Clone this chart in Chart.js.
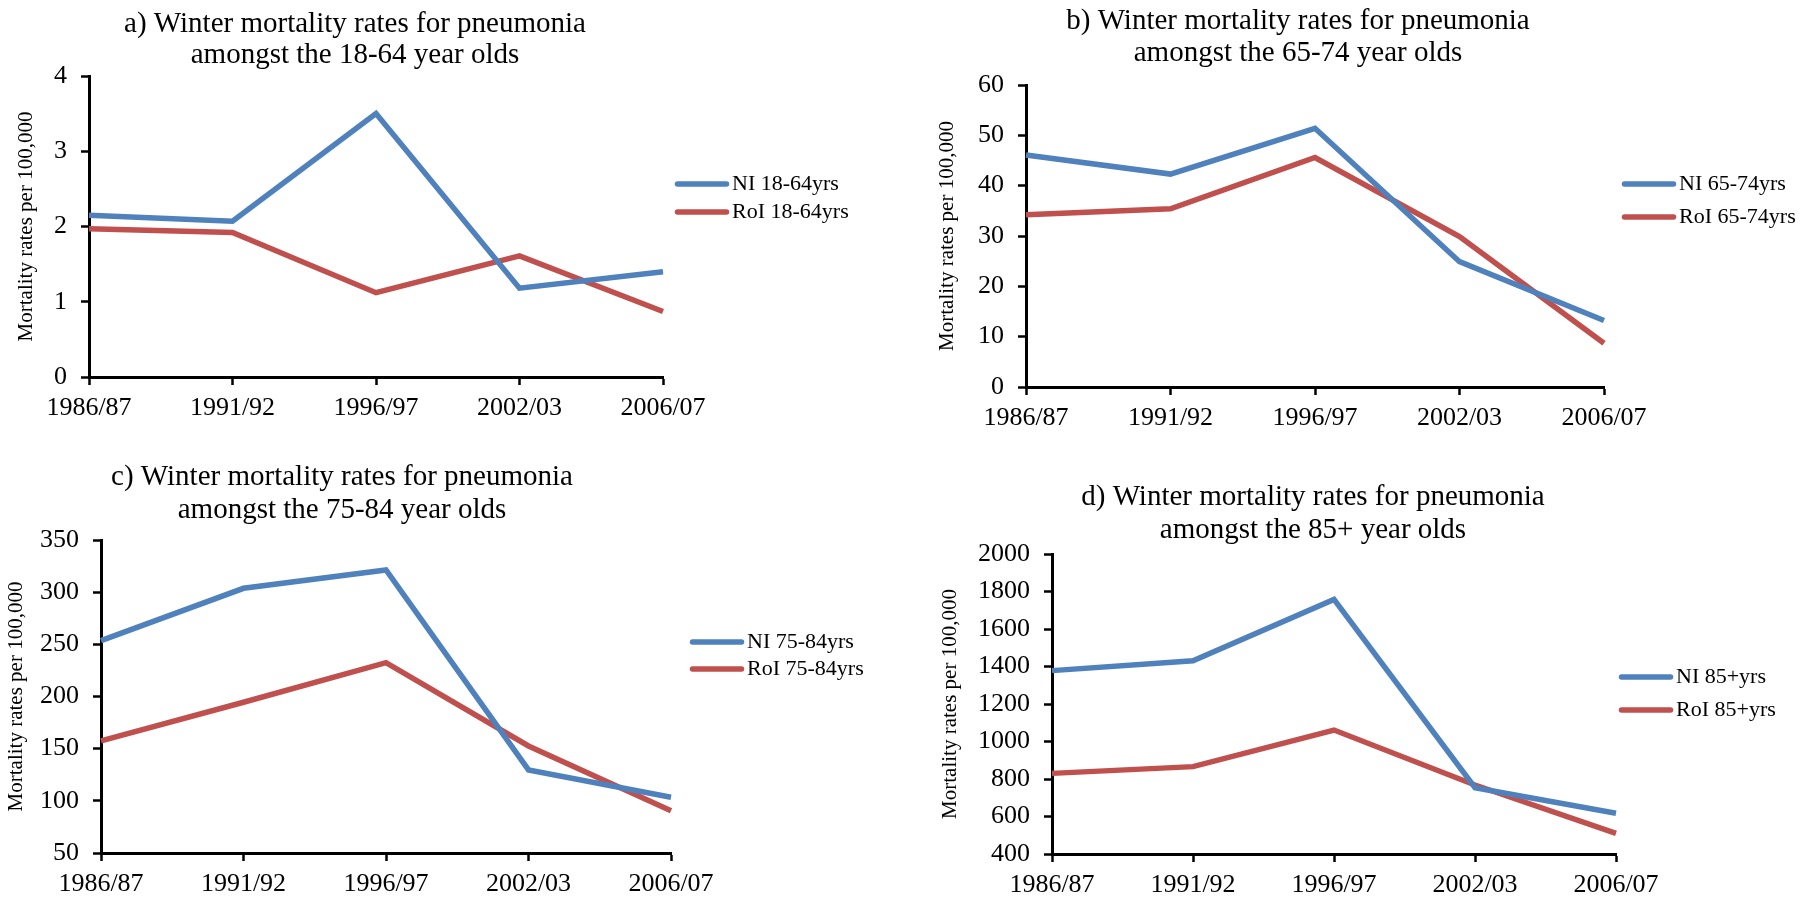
<!DOCTYPE html>
<html>
<head>
<meta charset="utf-8">
<script src="https://cdn.jsdelivr.net/npm/chart.js@4.4.1/dist/chart.umd.min.js"></script>
<style>
  body { margin: 0; background: #fff; }
  #wrap { position: relative; width: 1811px; height: 900px; overflow: hidden; }
  #wrap canvas { position: absolute; }
</style>
</head>
<body>
<div id="wrap">
  <canvas id="chartA" width="905" height="450" style="left:0;top:0"></canvas>
  <canvas id="chartB" width="906" height="450" style="left:905px;top:0"></canvas>
  <canvas id="chartC" width="905" height="450" style="left:0;top:450px"></canvas>
  <canvas id="chartD" width="906" height="450" style="left:905px;top:450px"></canvas>
</div>
<script>
// data
var seasons = ['1986/87', '1991/92', '1996/97', '2002/03', '2006/07'];

var ni1864 = [2.15, 2.07, 3.50, 1.18, 1.40];
var roi1864 = [1.97, 1.92, 1.12, 1.61, 0.87];

var ni6574 = [46.1, 42.3, 51.4, 24.9, 13.2];
var roi6574 = [34.2, 35.4, 45.6, 29.9, 8.7];

var ni7584 = [253.5, 303.7, 321.3, 129.6, 103.4];
var roi7584 = [157.4, 194.5, 232.4, 152.6, 90.6];

var ni85 = [1378, 1431, 1758, 754, 617];
var roi85 = [830, 866, 1061, 768, 510];

var yTitle = 'Mortality rates per 100,000';

var FONT = '"Liberation Serif", "Times New Roman", serif';
var BLUE = '#4F81BD';
var RED = '#C0504D';

// titles + legend drawn at fixed spots, like the original layout
var panelText = {
    id: 'panelText',
    afterDraw: function(chart, args, opts) {
        var ctx = chart.ctx;
        ctx.save();
        ctx.fillStyle = '#000';
        ctx.textAlign = 'center';
        ctx.textBaseline = 'alphabetic';
        ctx.font = '29px ' + FONT;
        opts.title.forEach(function(line, i) {
            ctx.fillText(line, opts.titleX, opts.titleY[i]);
        });

        ctx.textAlign = 'left';
        ctx.textBaseline = 'middle';
        ctx.font = '22px ' + FONT;
        chart.data.datasets.forEach(function(ds, i) {
            var y = opts.legendY[i];
            ctx.strokeStyle = ds.borderColor;
            ctx.lineWidth = 5.5;
            ctx.lineCap = 'round';
            ctx.beginPath();
            ctx.moveTo(opts.legendX + 2.5, y);
            ctx.lineTo(opts.legendX + 51.5, y);
            ctx.stroke();
            ctx.fillText(ds.label, opts.legendX + 57, y);
        });
        ctx.restore();
    }
};

function makeChart(canvasId, cfg) {
    var area = cfg.area; // left, top, right, bottom inside the canvas
    var canvas = document.getElementById(canvasId);
    var padLeft = Math.round(cfg.yTitleX - 12.6);

    return new Chart(canvas, {
        type: 'line',
        data: {
            labels: seasons,
            datasets: [
                { label: cfg.names[0], data: cfg.ni, borderColor: BLUE, backgroundColor: BLUE },
                { label: cfg.names[1], data: cfg.roi, borderColor: RED, backgroundColor: RED }
            ]
        },
        plugins: [panelText],
        options: {
            responsive: false,
            animation: false,
            devicePixelRatio: 1,
            layout: {
                padding: {
                    left: padLeft,
                    top: area[1],
                    right: canvas.width - area[2],
                    bottom: 0
                }
            },
            elements: {
                line: { borderWidth: 5.5, tension: 0 },
                point: { radius: 0, hoverRadius: 0 }
            },
            scales: {
                x: {
                    offset: false,
                    afterFit: function(scale) { scale.height = canvas.height - area[3]; },
                    grid: {
                        offset: false,
                        drawOnChartArea: false,
                        drawTicks: true,
                        tickLength: 8,
                        tickWidth: 2.5,
                        tickColor: '#000'
                    },
                    border: { color: '#000', width: 3 },
                    ticks: {
                        autoSkip: false,
                        maxRotation: 0,
                        padding: 8,
                        color: '#000',
                        font: { family: FONT, size: 26 }
                    }
                },
                y: {
                    min: cfg.min,
                    max: cfg.max,
                    afterFit: function(scale) { scale.width = area[0] - padLeft; },
                    grid: {
                        drawOnChartArea: false,
                        drawTicks: true,
                        tickLength: 8,
                        tickWidth: 2.5,
                        tickColor: '#000'
                    },
                    border: { color: '#000', width: 3 },
                    ticks: {
                        stepSize: cfg.step,
                        padding: 14,
                        color: '#000',
                        font: { family: FONT, size: 26 },
                        callback: function(v) { return v; }
                    },
                    title: {
                        display: true,
                        text: yTitle,
                        color: '#000',
                        padding: 0,
                        font: { family: FONT, size: 21 }
                    }
                }
            },
            plugins: {
                legend: { display: false },
                tooltip: { enabled: false },
                panelText: {
                    title: cfg.title,
                    titleX: cfg.titleX,
                    titleY: cfg.titleY,
                    legendX: cfg.legendX,
                    legendY: cfg.legendY
                }
            }
        }
    });
}

makeChart('chartA', {
    ni: ni1864, roi: roi1864, names: ['NI 18-64yrs', 'RoI 18-64yrs'],
    min: 0, max: 4, step: 1,
    area: [89, 76, 663, 377], yTitleX: 27,
    title: ['a) Winter mortality rates for pneumonia', 'amongst the 18-64 year olds'],
    titleX: 355, titleY: [32, 63],
    legendX: 675, legendY: [184, 212]
});

makeChart('chartB', {
    ni: ni6574, roi: roi6574, names: ['NI 65-74yrs', 'RoI 65-74yrs'],
    min: 0, max: 60, step: 10,
    area: [121, 85, 699, 387], yTitleX: 43,
    title: ['b) Winter mortality rates for pneumonia', 'amongst the 65-74 year olds'],
    titleX: 393, titleY: [29, 61],
    legendX: 717, legendY: [184, 217]
});

makeChart('chartC', {
    ni: ni7584, roi: roi7584, names: ['NI 75-84yrs', 'RoI 75-84yrs'],
    min: 50, max: 350, step: 50,
    area: [101, 90, 671, 403], yTitleX: 17,
    title: ['c) Winter mortality rates for pneumonia', 'amongst the 75-84 year olds'],
    titleX: 342, titleY: [35, 68],
    legendX: 690, legendY: [192, 219]
});

makeChart('chartD', {
    ni: ni85, roi: roi85, names: ['NI 85+yrs', 'RoI 85+yrs'],
    min: 400, max: 2000, step: 200,
    area: [147, 104, 711, 404], yTitleX: 46,
    title: ['d) Winter mortality rates for pneumonia', 'amongst the 85+ year olds'],
    titleX: 408, titleY: [55, 88],
    legendX: 714, legendY: [227, 260]
});
</script>
</body>
</html>
